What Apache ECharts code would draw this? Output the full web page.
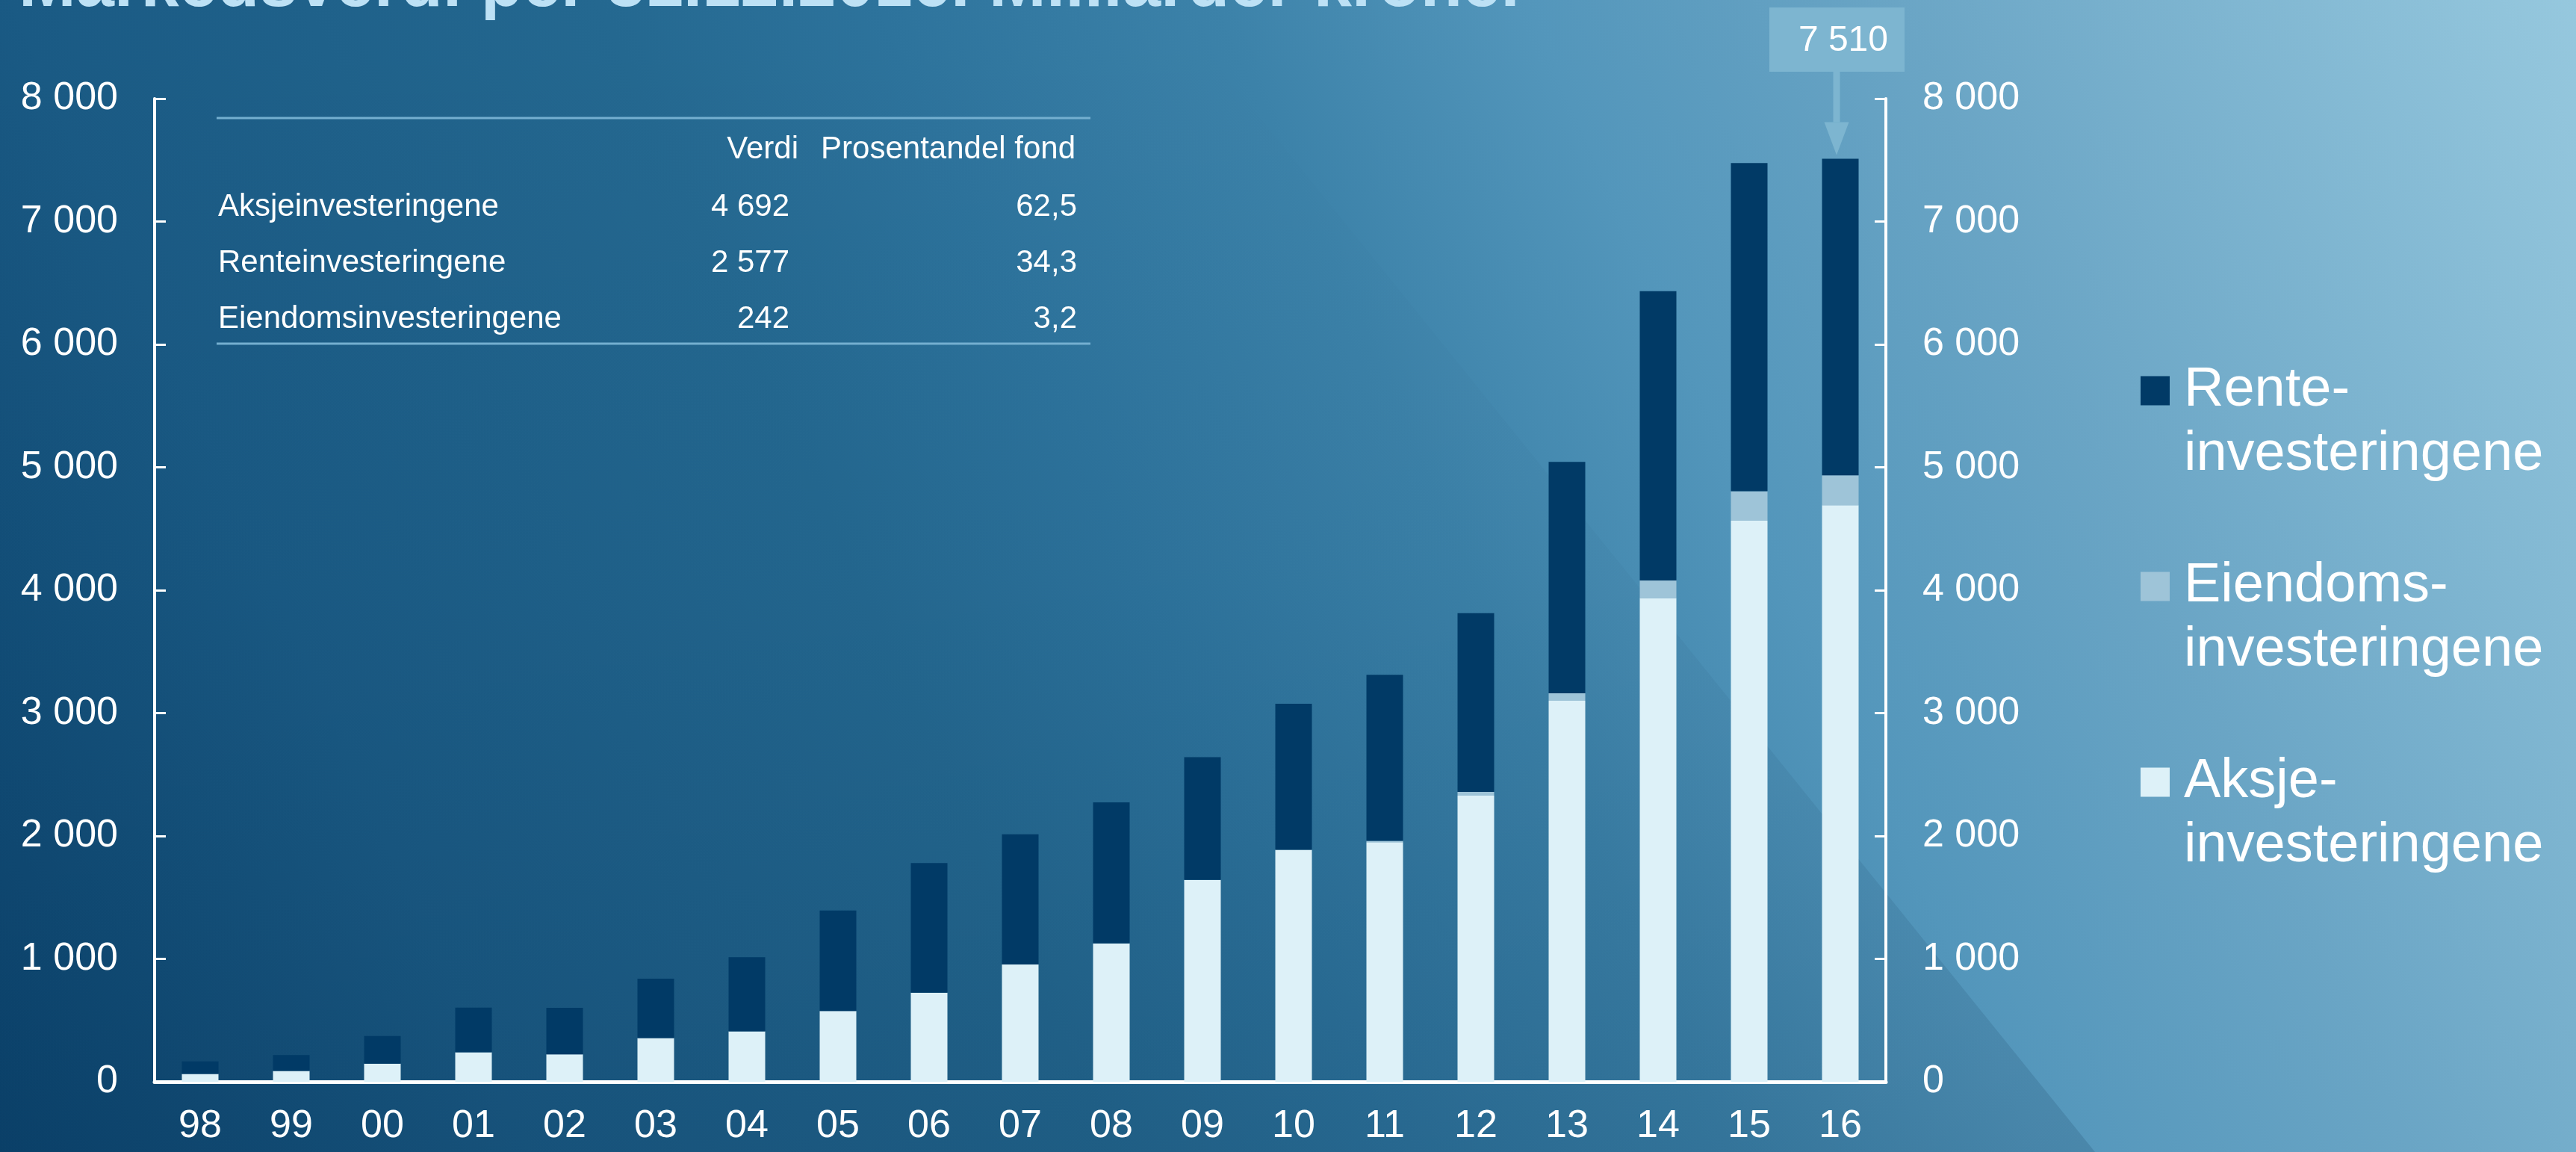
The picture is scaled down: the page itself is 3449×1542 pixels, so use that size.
<!DOCTYPE html>
<html>
<head>
<meta charset="utf-8">
<script src="https://cdn.jsdelivr.net/npm/echarts@6/dist/echarts.min.js"></script>
<style>
  html, body { margin: 0; padding: 0; }
  #chart { width: 3449px; height: 1542px; }
</style>
</head>
<body>
<div id="chart"></div>
<script>
// Markedsverdi per 31.12.2016, milliarder kroner
var years = ["98", "99", "00", "01", "02", "03", "04", "05", "06", "07", "08", "09", "10", "11", "12", "13", "14", "15", "16"];
var aksje = [64, 88, 148, 240, 224, 355, 410, 576, 725, 955, 1126, 1643, 1888, 1950, 2329, 3101, 3936, 4565, 4692];
var eiendom = [0, 0, 0, 0, 0, 0, 0, 0, 0, 0, 0, 0, 0, 10, 30, 60, 143, 240, 242];
var rente = [102, 129, 225, 364, 378, 484, 603, 818, 1054, 1059, 1147, 998, 1188, 1351, 1454, 1883, 2354, 2671, 2577];

var yMin = 0, yMax = 8000, yStep = 1000;

var seriesNames = ["Aksje-\ninvesteringene", "Eiendoms-\ninvesteringene", "Rente-\ninvesteringene"];
var seriesColors = ["#ddf1f8", "#9ec4d8", "#013a66"];

var tableHeader = ["Verdi", "Prosentandel fond"];
var tableNames = ["Aksjeinvesteringene", "Renteinvesteringene", "Eiendomsinvesteringene"];
var tableVerdi = ["4 692", "2 577", "242"];
var tableProsent = ["62,5", "34,3", "3,2"];

// total shown in the callout above the last bar
var calloutTotal = 7510;

var titleText = "Markedsverdi per 31.12.2016. Milliarder kroner";

var FONT = '"Liberation Sans", Arial, sans-serif';

function fmt(v) {
  if (v >= 1000) {
    return Math.floor(v / 1000) + " " + ("000" + (v % 1000)).slice(-3);
  }
  return String(v);
}

var chart = echarts.init(document.getElementById("chart"));

var axisLabelStyle = { color: "#ffffff", fontSize: 52, fontFamily: FONT };

var option = {
  animation: false,
  textStyle: { fontFamily: FONT },
  grid: { left: 207, right: 924, top: 132, bottom: 94 },
  legend: {
    orient: "vertical",
    left: 2866,
    top: 394,
    padding: 0,
    itemGap: 4,
    itemWidth: 39,
    itemHeight: 39,
    icon: "rect",
    selectedMode: false,
    data: [seriesNames[2], seriesNames[1], seriesNames[0]],
    // blank first line so the first text line sits level with the square
    formatter: function (name) { return "\n" + name; },
    textStyle: {
      color: "#ffffff",
      fontSize: 74,
      lineHeight: 86,
      fontFamily: FONT,
      padding: [0, 0, 0, 14]
    }
  },
  xAxis: {
    type: "category",
    data: years,
    axisLine: { lineStyle: { color: "#ffffff", width: 5 } },
    axisTick: { show: false },
    axisLabel: Object.assign({ margin: 34 }, axisLabelStyle)
  },
  yAxis: [
    {
      type: "value",
      position: "left",
      min: yMin, max: yMax, interval: yStep,
      splitLine: { show: false },
      axisLine: { show: true, lineStyle: { color: "#ffffff", width: 4 } },
      axisTick: { show: true, inside: true, length: 15, lineStyle: { color: "#ffffff", width: 3 } },
      axisLabel: Object.assign({ margin: 49, formatter: fmt }, axisLabelStyle)
    },
    {
      type: "value",
      position: "right",
      min: yMin, max: yMax, interval: yStep,
      splitLine: { show: false },
      axisLine: { show: true, lineStyle: { color: "#ffffff", width: 4 } },
      axisTick: { show: true, inside: true, length: 15, lineStyle: { color: "#ffffff", width: 3 } },
      axisLabel: Object.assign({ margin: 49, formatter: fmt }, axisLabelStyle)
    }
  ],
  series: [
    { name: seriesNames[0], type: "bar", stack: "fond", barWidth: 49, data: aksje,
      itemStyle: { color: seriesColors[0] } },
    { name: seriesNames[1], type: "bar", stack: "fond", barWidth: 49, data: eiendom,
      itemStyle: { color: seriesColors[1] } },
    { name: seriesNames[2], type: "bar", stack: "fond", barWidth: 49, data: rente,
      itemStyle: { color: seriesColors[2] } }
  ]
};

chart.setOption(option);

// background, title, table and callout
var W = 3449, H = 1542;
var graphics = [];

graphics.push({
  type: "rect", z: -100, silent: true,
  shape: { x: 0, y: 0, width: W, height: H },
  style: {
    fill: new echarts.graphic.LinearGradient(0, 1, 1, 0, [
      { offset: 0, color: "#0c456f" },
      { offset: 0.17, color: "#1a5a84" },
      { offset: 0.36, color: "#246890" },
      { offset: 0.45, color: "#2d739c" },
      { offset: 0.56, color: "#3c82a9" },
      { offset: 0.66, color: "#5396bb" },
      { offset: 0.78, color: "#6aa5c5" },
      { offset: 1, color: "#96c8de" }
    ])
  }
});
// darker wedge left of the diagonal, fading upward
graphics.push({
  type: "polygon", z: -99, silent: true,
  shape: { points: [[0, 0], [1560, 0], [2805, H], [0, H]] },
  style: {
    fill: new echarts.graphic.LinearGradient(0, 0, 0, 1, [
      { offset: 0, color: "rgba(0,30,60,0)" },
      { offset: 0.5, color: "rgba(0,30,60,0.03)" },
      { offset: 1, color: "rgba(0,30,60,0.14)" }
    ])
  }
});

graphics.push({
  type: "text", z: 100, silent: true,
  style: {
    text: titleText, x: 25, y: -17,
    verticalAlign: "middle",
    font: "bold 92px " + FONT,
    fill: "#bde1f5"
  }
});

// table
var lineColor = "#74afd0";
graphics.push({ type: "line", z: 50, silent: true,
  shape: { x1: 290, y1: 158, x2: 1460, y2: 158 }, style: { stroke: lineColor, lineWidth: 3 } });
graphics.push({ type: "line", z: 50, silent: true,
  shape: { x1: 290, y1: 460, x2: 1460, y2: 460 }, style: { stroke: lineColor, lineWidth: 3 } });
var tFont = "42px " + FONT;
graphics.push({ type: "text", z: 100, silent: true,
  style: { text: tableHeader[0], x: 1069, y: 200, align: "right", verticalAlign: "middle", font: tFont, fill: "#ffffff" } });
graphics.push({ type: "text", z: 100, silent: true,
  style: { text: tableHeader[1], x: 1440, y: 200, align: "right", verticalAlign: "middle", font: tFont, fill: "#ffffff" } });
for (var i = 0; i < tableNames.length; i++) {
  var ry = 277 + i * 75;
  graphics.push({ type: "text", z: 100, silent: true,
    style: { text: tableNames[i], x: 292, y: ry, align: "left", verticalAlign: "middle", font: tFont, fill: "#ffffff" } });
  graphics.push({ type: "text", z: 100, silent: true,
    style: { text: tableVerdi[i], x: 1057, y: ry, align: "right", verticalAlign: "middle", font: tFont, fill: "#ffffff" } });
  graphics.push({ type: "text", z: 100, silent: true,
    style: { text: tableProsent[i], x: 1442, y: ry, align: "right", verticalAlign: "middle", font: tFont, fill: "#ffffff" } });
}

// callout on the last bar
var last = years.length - 1;
var p = chart.convertToPixel({ xAxisIndex: 0, yAxisIndex: 0 }, [last, calloutTotal]);
var cx = p[0] - 5;
var tip = p[1] - 5;
var calloutColor = "#7db5d0";
graphics.push({ type: "rect", z: 60, silent: true,
  shape: { x: cx - 90, y: 10, width: 181, height: 86 }, style: { fill: calloutColor } });
graphics.push({ type: "rect", z: 60, silent: true,
  shape: { x: cx - 4.5, y: 96, width: 9, height: tip - 44 - 96 }, style: { fill: calloutColor } });
graphics.push({ type: "polygon", z: 60, silent: true,
  shape: { points: [[cx - 16.5, tip - 44], [cx + 16.5, tip - 44], [cx, tip]] }, style: { fill: calloutColor } });
graphics.push({ type: "text", z: 100, silent: true,
  style: { text: fmt(calloutTotal), x: cx + 69, y: 55, align: "right", verticalAlign: "middle", font: "48px " + FONT, fill: "#ffffff" } });

chart.setOption({ graphic: graphics });
</script>
</body>
</html>
